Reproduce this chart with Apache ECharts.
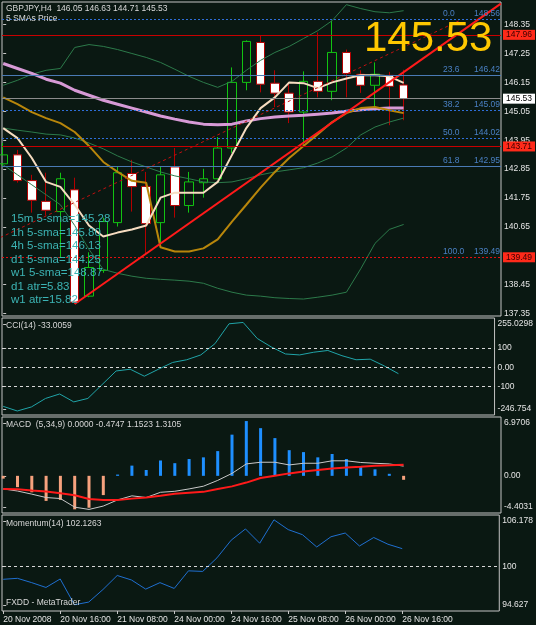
<!DOCTYPE html>
<html>
<head>
<meta charset="utf-8">
<script src="https://cdn.jsdelivr.net/npm/echarts@6/dist/echarts.min.js"></script>
<style>
  html, body { margin: 0; padding: 0; background: #0a1812; }
  #chart { width: 536px; height: 625px; }
</style>
</head>
<body>
<div id="chart"></div>
<script>
// GBPJPY H4, 29 bars starting 20 Nov 2008 00:00
var barOpen  = [143.05,143.39,142.41,141.62,141.23,142.06,138.01,138.99,140.81,142.68,142.19,140.81,142.93,141.46,142.33,142.48,143.65,146.15,147.67,146.12,145.74,145.02,146.19,145.81,147.29,146.46,146.04,146.42,146.05];
var barHigh  = [143.84,143.58,142.63,142.71,142.71,142.52,139.68,141.00,142.93,143.20,142.74,142.93,143.65,142.74,142.86,144.07,146.72,147.75,147.93,146.61,146.12,146.57,148.05,148.50,147.40,146.61,146.91,146.55,146.63];
var barLow   = [142.97,142.33,141.19,141.08,139.48,137.71,137.97,138.90,140.66,141.23,139.60,139.90,141.00,141.19,141.76,142.45,143.46,145.85,145.77,145.21,144.60,143.70,145.58,145.47,145.58,145.75,145.09,144.52,144.71];
var barClose = [143.39,142.41,141.66,141.28,142.48,137.78,139.10,140.85,142.71,142.18,140.77,142.63,141.46,142.36,142.48,143.65,146.15,147.71,146.08,145.74,145.02,146.19,145.81,147.29,146.49,146.04,146.46,146.00,145.53];

// moving averages and bands on the price chart
var maSlow  = [146.87,146.68,146.49,146.27,146.12,145.85,145.66,145.47,145.32,145.17,145.02,144.87,144.75,144.64,144.56,144.54,144.56,144.68,144.77,144.83,144.87,144.90,144.94,144.98,145.05,145.11,145.15,145.17,145.17];
var maMid   = [145.58,145.32,145.02,144.79,144.60,144.26,143.73,143.12,142.74,142.40,142.33,139.87,139.71,139.71,139.83,140.17,140.85,141.49,142.14,142.74,143.27,143.73,144.18,144.64,144.98,145.17,145.21,145.09,144.98];
var sma5    = [144.41,144.03,143.27,142.36,142.17,141.49,140.70,140.28,140.43,140.55,140.70,141.76,141.95,141.95,141.95,142.36,143.39,144.41,145.17,145.58,146.15,146.12,145.93,146.15,146.30,146.42,146.42,146.38,146.13];
var bbUpper = [146.04,146.23,146.46,146.61,146.68,147.48,147.59,147.52,147.40,147.25,147.10,146.91,146.65,146.38,146.15,145.96,146.19,146.61,146.99,147.29,147.52,147.82,148.12,148.50,149.11,148.96,148.84,148.80,148.88];
var bbMid   = [144.41,144.33,144.26,144.18,144.15,144.03,143.84,143.62,143.35,143.12,142.93,142.74,142.59,142.48,142.36,142.33,142.36,142.48,142.63,142.74,142.82,142.90,143.08,143.31,143.65,144.15,144.45,144.64,144.79];
var bbLower = [143.01,142.63,142.25,141.87,141.49,140.70,139.79,139.03,138.88,138.77,138.69,138.65,138.62,138.58,138.50,138.31,138.16,138.05,138.01,137.95,137.92,137.90,137.97,138.05,138.16,139.05,140.02,140.55,140.74];

// drawn objects: [bar, price] end points
var trendLine   = [[5, 137.71], [34.8, 149.15]];
var channelLine = [[-0.2, 140.24], [31.9, 148.50]];

// fibo + horizontal levels
var fiboLevels = ['0.0', '23.6', '38.2', '50.0', '61.8', '100.0'];
var fiboPrices = [148.56, 146.42, 145.09, 144.02, 142.95, 139.49];
var redLevels  = [147.96, 143.71];
var bidPrice   = 145.53;

// indicators
var cciValues  = [-202,-226,-205,-161,-138,-179,-161,-90,-19,-10,-46,-10,25,39,64,122,225,232,149,105,69,64,78,87,60,39,42,7,-33.01];
var macdHist   = [-0.33,-1.34,-1.95,-2.97,-2.85,-3.97,-3.78,-2.28,0.15,1.21,0.69,1.82,1.50,1.99,2.19,2.93,4.88,6.49,5.65,4.47,3.04,2.81,2.19,2.59,1.99,1.09,0.77,0.24,-0.47];
var macdMain   = [-1.55,-1.80,-2.17,-2.57,-2.69,-3.71,-3.98,-3.58,-2.85,-2.37,-2.57,-1.95,-1.83,-1.55,-1.23,-0.54,0.29,1.41,1.61,1.61,1.29,1.49,1.49,1.78,1.78,1.58,1.49,1.41,1.15];
var macdSignal = [-1.55,-1.60,-1.75,-1.85,-2.07,-2.30,-2.74,-2.86,-2.85,-2.70,-2.57,-2.35,-2.11,-2.00,-1.90,-1.55,-1.25,-0.80,-0.25,0.00,0.29,0.50,0.68,0.87,1.00,1.08,1.20,1.25,1.31];
var momValues  = [98.44,98.56,98.04,97.46,98.48,95.38,95.70,97.21,98.90,98.36,97.26,98.04,97.34,99.46,99.39,101.02,103.15,104.50,102.78,105.60,104.42,103.81,102.33,103.56,104.01,102.45,103.47,102.66,102.13];

// axes
var tickBars   = [0, 4, 8, 12, 16, 20, 24, 28];
var tickLabels = ['20 Nov 2008', '20 Nov 16:00', '21 Nov 08:00', '24 Nov 00:00', '24 Nov 16:00', '25 Nov 08:00', '26 Nov 00:00', '26 Nov 16:00'];
var priceTicks = [148.35, 147.25, 146.15, 145.05, 143.95, 142.85, 141.75, 140.65, 138.45, 137.35];
var priceRange = [137.254, 149.211];
var cciRange   = [-246.754, 255.0298];
var macdRange  = [-4.4031, 6.9706];
var momRange   = [94.627, 106.178];

var smaNotes = ['15m 5-sma=145.28', '1h 5-sma=145.80', '4h 5-sma=146.13', 'd1 5-sma=144.25', 'w1 5-sma=148.87', 'd1 atr=5.83', 'w1 atr=15.82'];

var FONT = '"Liberation Sans", Arial, sans-serif';
var AXIS_TXT = '#e4e4e4';
var xMin = -0.084, xMax = 34.81;

function pts(arr) { return arr.map(function (v, i) { return [i, v]; }); }

var gridBoxes = [
  { top: 2, height: 314 },
  { top: 318, height: 97 },
  { top: 417, height: 96 },
  { top: 515, height: 96 }
];

function nearestText(vals, texts) {
  return function (v) {
    var best = 0;
    for (var i = 1; i < vals.length; i++) {
      if (Math.abs(vals[i] - v) < Math.abs(vals[best] - v)) best = i;
    }
    return texts[best];
  };
}

// sub window label values: max / min labels sit just inside the frame like MT4
function subLabels(range, h, mids, midTexts) {
  var span = range[1] - range[0];
  var vals = [range[1] - span * 6 / h].concat(mids, [range[0] + span * 6 / h]);
  var texts = [String(range[1])].concat(midTexts, [String(range[0])]);
  return { vals: vals, texts: texts };
}

function yAx(idx, range, vals, texts) {
  return {
    type: 'value', gridIndex: idx, min: range[0], max: range[1], position: 'right',
    splitLine: { show: false }, axisLine: { show: false },
    axisTick: { show: true, length: 3, customValues: vals, lineStyle: { color: '#c8c8c8' } },
    axisLabel: { customValues: vals, formatter: nearestText(vals, texts), color: AXIS_TXT, fontSize: 8.5, fontFamily: FONT, margin: 3 }
  };
}

var cciL  = subLabels(cciRange, 97, [100, 0, -100], ['100', '0.00', '-100']);
var macdL = subLabels(macdRange, 96, [0], ['0.00']);
var momL  = subLabels(momRange, 96, [100], ['100']);

function lineS(data, color, width, axis, extra) {
  return Object.assign({
    type: 'line', xAxisIndex: axis, yAxisIndex: axis, data: data, showSymbol: false, symbol: 'none',
    lineStyle: { color: color, width: width }, silent: true, animation: false
  }, extra || {});
}

// horizontal lines on the price window
var levelMarks = [];
var fiboStyles = [
  { color: '#2f6fd8', type: [2, 2] },
  { color: '#4a7ab4', type: 'solid' },
  { color: '#2f6fd8', type: [2, 2] },
  { color: '#2f6fd8', type: [2, 2] },
  { color: '#4a7ab4', type: 'solid' },
  { color: '#e01010', type: [2, 2] }
];
fiboPrices.forEach(function (p, i) {
  levelMarks.push({
    yAxis: p, lineStyle: Object.assign({ width: 1 }, fiboStyles[i]),
    label: {
      show: true, position: 'insideEndTop', distance: [1, 1],
      formatter: '{a|' + fiboLevels[i] + '}{b|' + p.toFixed(2) + '}',
      rich: {
        a: { width: 31, align: 'left', color: '#4a80c4', fontSize: 8.5, fontFamily: FONT },
        b: { color: '#4a80c4', fontSize: 8.5, fontFamily: FONT }
      }
    }
  });
});
redLevels.forEach(function (p) {
  levelMarks.push({ yAxis: p, lineStyle: { color: '#c80000', width: 1, type: 'solid' }, label: { show: false } });
});
levelMarks.push({ yAxis: bidPrice, lineStyle: { color: '#8c8c8c', width: 1, type: 'solid' }, label: { show: false } });

// price boxes on the right scale
var boxPrices = [redLevels[0], bidPrice, redLevels[1], fiboPrices[5]];
boxPrices.forEach(function (p) {
  var bid = p === bidPrice;
  levelMarks.push({
    yAxis: p, lineStyle: { color: 'rgba(0,0,0,0)', width: 0 },
    label: {
      show: true, position: 'end', distance: 2, formatter: p.toFixed(2), opacity: 1,
      backgroundColor: bid ? '#ffffff' : '#ff2a1a', color: bid ? '#000000' : '#3a0000',
      padding: [1, 3, 0, 3], fontSize: 8.5, fontFamily: FONT
    }
  });
});

var texts = [
  { x: 6, y: 9, text: 'GBPJPY,H4  146.05 146.63 144.71 145.53', fill: '#d8d8d8', size: 8.5 },
  { x: 6, y: 19, text: '5 SMAs Price', fill: '#d8d8d8', size: 8.5 },
  { x: 6, y: 326, text: 'CCI(14) -33.0059', fill: '#d8d8d8', size: 8.5 },
  { x: 6, y: 425, text: 'MACD  (5,34,9) 0.0000 -0.4747 1.1523 1.3105', fill: '#d8d8d8', size: 8.5 },
  { x: 6, y: 524, text: 'Momentum(14) 102.1263', fill: '#d8d8d8', size: 8.5 },
  { x: 6, y: 603, text: 'FXDD - MetaTrader', fill: '#d8d8d8', size: 8.5 },
  { x: 364, y: 39, text: '145.53', fill: '#ffc800', size: 42 }
];
smaNotes.forEach(function (t, i) {
  texts.push({ x: 11, y: 219 + i * 13.5, text: t, fill: '#3cb4b4', size: 11.5 });
});

var option = {
  backgroundColor: '#0a1812',
  animation: false,
  grid: gridBoxes.map(function (g) {
    return { left: 2, right: 35, top: g.top, height: g.height, show: true, borderColor: '#c4c4c4', borderWidth: 1, backgroundColor: 'transparent' };
  }),
  xAxis: [0, 1, 2, 3].map(function (i) {
    var last = i === 3;
    return {
      type: 'value', gridIndex: i, min: xMin, max: xMax, show: true,
      splitLine: { show: false }, axisLine: { show: false },
      axisTick: { show: last, length: 3, customValues: tickBars, lineStyle: { color: '#c8c8c8' } },
      axisLabel: {
        show: last, customValues: tickBars, formatter: nearestText(tickBars, tickLabels),
        align: 'left', color: AXIS_TXT, fontSize: 8.5, fontFamily: FONT, margin: 4
      }
    };
  }),
  yAxis: [
    yAx(0, priceRange, priceTicks, priceTicks.map(function (v) { return v.toFixed(2); })),
    yAx(1, cciRange, cciL.vals, cciL.texts),
    yAx(2, macdRange, macdL.vals, macdL.texts),
    yAx(3, momRange, momL.vals, momL.texts)
  ],
  series: [
    {
      type: 'candlestick', xAxisIndex: 0, yAxisIndex: 0, barWidth: 9, silent: true,
      data: barOpen.map(function (o, i) { return [i, o, barClose[i], barLow[i], barHigh[i]]; }),
      itemStyle: { color: 'transparent', color0: '#ffffff', borderColor: '#12c412', borderColor0: '#b40000', borderWidth: 1 }
    },
    lineS(pts(bbUpper), '#2c7a4a', 1, 0),
    lineS(pts(bbMid), '#2c7a4a', 1, 0),
    lineS(pts(bbLower), '#2c7a4a', 1, 0),
    lineS(pts(maSlow), '#d79ad6', 3, 0),
    lineS(pts(maMid), '#b8860b', 2, 0),
    lineS(pts(sma5), '#f6dcc0', 2, 0),
    lineS(channelLine, '#c01010', 1, 0, { lineStyle: { color: '#c01010', width: 1, type: [3, 3] } }),
    lineS(trendLine, '#ff1a1a', 2, 0, {
      markLine: { symbol: 'none', silent: true, animation: false, data: levelMarks }
    }),
    lineS(pts(cciValues), '#20a4a8', 1, 1, {
      markLine: {
        symbol: 'none', silent: true, label: { show: false },
        lineStyle: { color: '#d8d8d8', width: 1, type: [3, 3] },
        data: [{ yAxis: 100 }, { yAxis: 0 }, { yAxis: -100 }]
      }
    }),
    {
      type: 'bar', xAxisIndex: 2, yAxisIndex: 2, barWidth: 3, silent: true,
      data: macdHist.map(function (v, i) {
        return { value: [i, v], itemStyle: { color: v >= 0 ? '#1e8fff' : '#f6a27e' } };
      })
    },
    lineS(pts(macdMain), '#c8c8c8', 1, 2),
    lineS(pts(macdSignal), '#ff1a1a', 2, 2),
    lineS(pts(momValues), '#1f6fd0', 1, 3, {
      markLine: {
        symbol: 'none', silent: true, label: { show: false },
        lineStyle: { color: '#d8d8d8', width: 1, type: [3, 3] },
        data: [{ yAxis: 100 }]
      }
    })
  ],
  graphic: texts.map(function (t) {
    return {
      type: 'text', z: 100, silent: true,
      style: { x: t.x, y: t.y, text: t.text, fill: t.fill, font: t.size + 'px ' + FONT, verticalAlign: 'middle' }
    };
  })
};

var chart = echarts.init(document.getElementById('chart'));
chart.setOption(option);
</script>
</body>
</html>
